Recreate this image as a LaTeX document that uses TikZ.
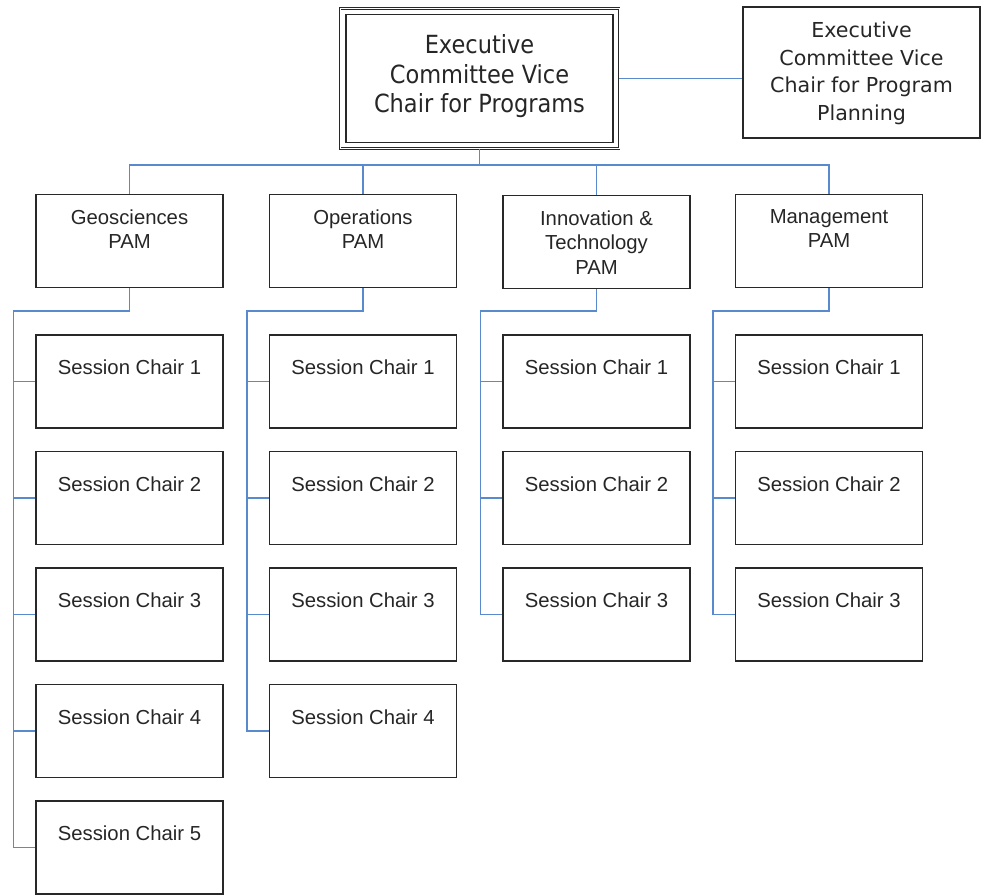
\documentclass[tikz,border=0pt]{standalone}
\usepackage{fontspec}
\setmainfont{Liberation Sans}
\newfontfamily\headfont{DejaVu Sans Condensed}
\newfontfamily\sidefont{DejaVu Sans}
\definecolor{linkblue}{RGB}{88,138,205}
\definecolor{boxline}{RGB}{40,40,40}
\tikzset{
	box/.style={draw=boxline, line width=1.3pt, minimum width=187pt, minimum height=93pt, inner sep=0pt},
	lbl/.style={anchor=north, align=center, text=black!85, font=\fontsize{20.3}{24.5}\selectfont},
	link/.style={draw=linkblue, line width=1.6pt},
}
\begin{document}
\begin{tikzpicture}[x=1pt,y=-1pt]
		\useasboundingbox (0,0) rectangle (982,894);
		\node[draw=boxline, double, double distance=1pt, line width=0.9pt, minimum width=279pt, minimum height=140pt, label={[lbl, label distance=-23pt, font=\headfont\fontsize{25}{29.5}\selectfont]north:Executive\\Committee Vice\\Chair for Programs}] (vc) at (479.5,78.5) {};
		\node[box, minimum width=237pt, minimum height=131pt, label={[lbl, label distance=-12pt, font=\sidefont\fontsize{20.6}{27.5}\selectfont]north:Executive\\Committee Vice\\Chair for Program\\Planning}] (vcp) at (861.5,72.5) {};
		\node[box, label={[lbl, label distance=-12pt]north:Geosciences\\PAM}] (geo) at (129.5,241) {};
		\node[box, label={[lbl, label distance=-12pt]north:Operations\\PAM}] (ops) at (363,241) {};
		\node[box, label={[lbl, label distance=-12pt]north:Innovation \&\\Technology\\PAM}] (inn) at (596.5,242) {};
		\node[box, label={[lbl, label distance=-12pt]north:Management\\PAM}] (mgt) at (829,241) {};
		\node[box, label={[lbl, label distance=-22pt]north:Session Chair 1}] (geo1) at (129.5,381.5) {};
		\node[box, label={[lbl, label distance=-22pt]north:Session Chair 2}] (geo2) at (129.5,498) {};
		\node[box, label={[lbl, label distance=-22pt]north:Session Chair 3}] (geo3) at (129.5,614.5) {};
		\node[box, label={[lbl, label distance=-22pt]north:Session Chair 4}] (geo4) at (129.5,731) {};
		\node[box, label={[lbl, label distance=-22pt]north:Session Chair 5}] (geo5) at (129.5,847.5) {};
		\node[box, label={[lbl, label distance=-22pt]north:Session Chair 1}] (ops1) at (363,381.5) {};
		\node[box, label={[lbl, label distance=-22pt]north:Session Chair 2}] (ops2) at (363,498) {};
		\node[box, label={[lbl, label distance=-22pt]north:Session Chair 3}] (ops3) at (363,614.5) {};
		\node[box, label={[lbl, label distance=-22pt]north:Session Chair 4}] (ops4) at (363,731) {};
		\node[box, label={[lbl, label distance=-22pt]north:Session Chair 1}] (inn1) at (596.5,381.5) {};
		\node[box, label={[lbl, label distance=-22pt]north:Session Chair 2}] (inn2) at (596.5,498) {};
		\node[box, label={[lbl, label distance=-22pt]north:Session Chair 3}] (inn3) at (596.5,614.5) {};
		\node[box, label={[lbl, label distance=-22pt]north:Session Chair 1}] (mgt1) at (829,381.5) {};
		\node[box, label={[lbl, label distance=-22pt]north:Session Chair 2}] (mgt2) at (829,498) {};
		\node[box, label={[lbl, label distance=-22pt]north:Session Chair 3}] (mgt3) at (829,614.5) {};
		\draw[draw=boxline, line width=1.3pt] ([shift={(6.5,6.5)}]vc.north west) rectangle ([shift={(-6.5,-6.5)}]vc.south east);
		\draw[link] (vc.east) -- (vc.east -| vcp.west) (vc.south) -- ++(0,16) -| (geo.north) (vc.south) -- ++(0,16) -| (ops.north) (vc.south) -- ++(0,16) -| (inn.north) (vc.south) -- ++(0,16) -| (mgt.north);
		\draw[link] (geo.south) -- ++(0,23) -| ([xshift=-22pt]geo5.west) -- (geo5.west) (geo1.west) -- ++(-22,0) (geo2.west) -- ++(-22,0) (geo3.west) -- ++(-22,0) (geo4.west) -- ++(-22,0);
		\draw[link] (ops.south) -- ++(0,23) -| ([xshift=-22pt]ops4.west) -- (ops4.west) (ops1.west) -- ++(-22,0) (ops2.west) -- ++(-22,0) (ops3.west) -- ++(-22,0);
		\draw[link] (inn.south) -- ++(0,22) -| ([xshift=-22pt]inn3.west) -- (inn3.west) (inn1.west) -- ++(-22,0) (inn2.west) -- ++(-22,0);
		\draw[link] (mgt.south) -- ++(0,23) -| ([xshift=-22pt]mgt3.west) -- (mgt3.west) (mgt1.west) -- ++(-22,0) (mgt2.west) -- ++(-22,0);
	\end{tikzpicture}
\end{document}
